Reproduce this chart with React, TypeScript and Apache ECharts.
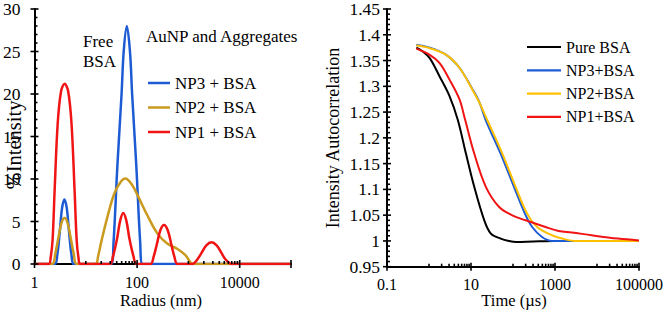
import React, { useEffect, useRef } from "react";
import * as echarts from "echarts";

const FONT = "'Liberation Serif', serif";

// ---- Left chart: size distribution (% intensity vs radius, nm) ----
const np3Radius = [1, 2.47, 2.77, 3.13, 3.45, 3.83, 4.25, 4.68, 5.28, 5.93, 31.2, 34.7, 41.3, 49.8, 54.8, 63.1, 72.6, 80, 96.4, 115, 128, 100000];
const np3Intensity = [0, 0, 1.0, 4, 6.6, 7.6, 6.6, 4, 1.0, 0, 0, 2.5, 11.6, 20, 25, 28, 25, 20, 11.6, 2.5, 0, 0];

const np2Radius = [1, 2.21, 2.54, 2.9, 3.35, 3.85, 4.42, 5.1, 5.82, 6.68, 15.3, 17.5, 20, 26.8, 36, 48.5, 59, 80, 102, 159, 248, 386, 603, 873, 1260, 100000];
const np2Intensity = [0, 0, 1.2, 3.0, 4.8, 5.4, 4.8, 3.0, 1.2, 0, 0, 1.0, 2.6, 5.7, 8.3, 9.7, 10.05, 9.3, 8.1, 5.7, 3.6, 2.4, 1.8, 1.05, 0, 0];

const np1Radius = [1, 1.89, 2.07, 2.25, 2.47, 2.83, 3.29, 3.86, 4.54, 5.27, 6.04, 6.64, 7.19, 7.89, 29.5, 33.9, 40.7, 46.8, 53.7, 61.7, 70.8, 85.1, 97.7, 182, 211, 242, 285, 335, 394, 465, 531, 615, 1202, 1479, 1803, 2239, 2818, 3548, 4406, 5370, 7080, 100000];
const np1Intensity = [0, 0, 0.8, 2.8, 8.7, 16.5, 20.3, 21.2, 20.3, 16.5, 8.7, 2.8, 0.8, 0, 0, 0.9, 3, 5.1, 6.0, 5.1, 3, 0.9, 0, 0, 0.9, 2.3, 4.0, 4.6, 4.0, 2.3, 0.9, 0, 0, 0.5, 1.3, 2.2, 2.55, 2.2, 1.3, 0.5, 0, 0];

const leftNames = ["NP3 + BSA", "NP2 + BSA", "NP1 + BSA"];
const leftXLabels: Record<string, string> = { "0": "1", "2": "100", "4": "10000" };
const leftYLabels = ["0", "5", "10", "15", "20", "25", "30"];
const leftXMajor = [1, 100, 10000, 100000];

// ---- Right chart: intensity autocorrelation vs time (µs) ----
const pureTime = [0.5, 0.7, 1.04, 1.79, 3.08, 4.84, 7.6, 12, 20.7, 29.7, 51, 80, 120, 300, 1000, 100000];
const pureAc = [1.375, 1.368, 1.3546, 1.319, 1.281, 1.235, 1.169, 1.1045, 1.04, 1.0143, 1.0046, 1.0, 0.998, 0.999, 1.0, 1.0];

const np3Time = [0.5, 1.04, 2.57, 5.3, 10.9, 15.7, 22.6, 51, 106, 192, 286, 490, 850, 100000];
const np3Ac = [1.38, 1.375, 1.361, 1.336, 1.294, 1.27, 1.2336, 1.169, 1.1045, 1.053, 1.027, 1.0077, 1.0, 1.0];

const np2Time = [0.5, 1.04, 2.57, 5.3, 10.9, 15.7, 24.7, 56, 116, 218, 375, 850, 1760, 3000, 100000];
const np2Ac = [1.379, 1.374, 1.361, 1.336, 1.293, 1.269, 1.2336, 1.169, 1.1045, 1.053, 1.027, 1.011, 1.003, 1.0, 1.0];

const np1Time = [0.5, 1.04, 1.79, 3.08, 5.3, 7.2, 12, 22.7, 46.8, 96, 200, 593, 1222, 2510, 7480, 31600, 100000];
const np1Ac = [1.373, 1.361, 1.345, 1.313, 1.275, 1.236, 1.169, 1.1045, 1.0658, 1.0497, 1.04, 1.0271, 1.0194, 1.0165, 1.011, 1.0046, 1.001];

const rightNames = ["Pure BSA", "NP3+BSA", "NP2+BSA", "NP1+BSA"];
const rightXLabels: Record<string, string> = { "-1": "0.1", "1": "10", "3": "1000", "5": "100000" };
const rightYLabels = ["0.95", "1", "1.05", "1.1", "1.15", "1.2", "1.25", "1.3", "1.35", "1.4", "1.45"];
const rightXMajor = [0.1, 10, 1000, 100000];

const BLUE = "#1C5BD4";
const GOLD = "#C99A1E";
const YELLOW = "#FFC000";
const RED = "#F01414";
const BLACK = "#000000";

function pairs(xs: number[], ys: number[]) {
  return xs.map((x, i) => [x, ys[i]]);
}

function minorLogTicks(majors: number[], max: number) {
  const out: number[] = [];
  majors.forEach((m) => {
    for (let k = 1; k <= 9; k++) {
      const v = m * 10 * k;
      if (v < max * 0.999) out.push(v);
    }
  });
  return out;
}

function linTicks(min: number, max: number, step: number, majorStep: number) {
  const out: number[][] = [];
  const n = Math.round((max - min) / step);
  const per = Math.round(majorStep / step);
  for (let i = 0; i <= n; i++) {
    out.push([min + i * step, i % per === 0 ? 1 : 0]);
  }
  return out;
}

function tickSeries(gridIdx: number, dir: "x" | "y", data: number[][]) {
  return {
    type: "custom",
    xAxisIndex: gridIdx,
    yAxisIndex: gridIdx,
    silent: true,
    clip: false,
    z: 10,
    data,
    renderItem: (_params: any, api: any) => {
      const p = api.coord([api.value(0), api.value(1)]);
      const major = api.value(2) === 1;
      const L = 4;
      const m = 3;
      const shape =
        dir === "x"
          ? { x1: p[0], y1: p[1] - (major ? L : m), x2: p[0], y2: p[1] + (major ? L : 0) }
          : { x1: p[0] - (major ? L : 0), y1: p[1], x2: p[0] + (major ? L : m), y2: p[1] };
      return { type: "line", shape, style: { stroke: "#000", lineWidth: 1.6 } };
    },
  };
}

function lineSeries(name: string, gridIdx: number, data: number[][], color: string, width: number) {
  return {
    type: "line",
    name,
    xAxisIndex: gridIdx,
    yAxisIndex: gridIdx,
    data,
    symbol: "none",
    smooth: 0.35,
    lineStyle: { color, width },
    itemStyle: { color },
    z: 3,
  };
}

export default function App() {
  const ref = useRef<HTMLDivElement>(null);

  useEffect(() => {
    if (!ref.current) return;
    const chart = echarts.init(ref.current, undefined, { renderer: "svg" });

    const leftXTicks = [
      ...leftXMajor.map((v) => [v, 0, 1]),
      ...minorLogTicks([1, 100, 10000], 100000).map((v) => [v, 0, 0]),
    ];
    const rightXTicks = [
      ...rightXMajor.map((v) => [v, 0.95, 1]),
      ...minorLogTicks([0.1, 10, 1000], 100000).map((v) => [v, 0.95, 0]),
    ];
    const leftYTicks = linTicks(0, 30, 1, 5).map(([v, mj]) => [1, v, mj]);
    const rightYTicks = linTicks(0.95, 1.45, 0.01, 0.05).map(([v, mj]) => [0.1, v, mj]);

    const axisLine = { show: true, onZero: false, lineStyle: { color: "#000", width: 2 } };
    const xLabelStyle = { color: "#000", fontFamily: FONT, fontSize: 16 };
    const yLabelStyle = { color: "#000", fontFamily: FONT, fontSize: 17.5 };

    const option: any = {
      animation: false,
      backgroundColor: "#ffffff",
      textStyle: { fontFamily: FONT, color: "#000" },
      grid: [
        { left: 31, top: 7.5, width: 260, height: 256.5, containLabel: false },
        { left: 387, top: 8.5, width: 254.5, height: 258.2, containLabel: false },
      ],
      xAxis: [
        {
          type: "log",
          gridIndex: 0,
          logBase: 10,
          min: 1,
          max: 100000,
          axisLine,
          axisTick: { show: false },
          minorTick: { show: false },
          splitLine: { show: false },
          axisLabel: {
            ...xLabelStyle,
            margin: 10,
            formatter: (v: number) => leftXLabels[String(Math.round(Math.log10(v)))] || "",
          },
        },
        {
          type: "log",
          gridIndex: 1,
          logBase: 10,
          min: 0.1,
          max: 100000,
          axisLine,
          axisTick: { show: false },
          minorTick: { show: false },
          splitLine: { show: false },
          axisLabel: {
            ...xLabelStyle,
            margin: 10,
            formatter: (v: number) => rightXLabels[String(Math.round(Math.log10(v)))] || "",
          },
        },
      ],
      yAxis: [
        {
          type: "value",
          gridIndex: 0,
          min: 0,
          max: 30,
          interval: 5,
          axisLine,
          axisTick: { show: false },
          splitLine: { show: false },
          axisLabel: {
            ...yLabelStyle,
            margin: 14,
            formatter: (v: number) => leftYLabels[Math.round(v / 5)] ?? "",
          },
        },
        {
          type: "value",
          gridIndex: 1,
          min: 0.95,
          max: 1.45,
          interval: 0.05,
          axisLine,
          axisTick: { show: false },
          splitLine: { show: false },
          axisLabel: {
            ...yLabelStyle,
            margin: 7,
            formatter: (v: number) => rightYLabels[Math.round((v - 0.95) / 0.05)] ?? "",
          },
        },
      ],
      legend: [
        {
          data: leftNames,
          orient: "vertical",
          left: 148,
          top: 74.5,
          padding: 0,
          icon: "rect",
          itemWidth: 22,
          itemHeight: 2.5,
          itemGap: 7.5,
          textStyle: { color: "#000", fontFamily: FONT, fontSize: 17 },
        },
        {
          data: rightNames,
          orient: "vertical",
          left: 527,
          top: 39,
          padding: 0,
          icon: "rect",
          itemWidth: 34,
          itemHeight: 2.2,
          itemGap: 7.3,
          textStyle: { color: "#000", fontFamily: FONT, fontSize: 16 },
        },
      ],
      series: [
        lineSeries(leftNames[0], 0, pairs(np3Radius, np3Intensity), BLUE, 2.5),
        lineSeries(leftNames[1], 0, pairs(np2Radius, np2Intensity), GOLD, 2.5),
        lineSeries(leftNames[2], 0, pairs(np1Radius, np1Intensity), RED, 2.5),
        lineSeries(rightNames[0], 1, pairs(pureTime, pureAc), BLACK, 2),
        lineSeries(rightNames[1], 1, pairs(np3Time, np3Ac), BLUE, 2),
        lineSeries(rightNames[2], 1, pairs(np2Time, np2Ac), YELLOW, 2),
        lineSeries(rightNames[3], 1, pairs(np1Time, np1Ac), RED, 2),
        tickSeries(0, "x", leftXTicks),
        tickSeries(0, "y", leftYTicks),
        tickSeries(1, "x", rightXTicks),
        tickSeries(1, "y", rightYTicks),
      ],
      graphic: [
        {
          type: "text",
          left: 83,
          top: 32,
          style: { text: "Free\nBSA", fontFamily: FONT, fontSize: 17, lineHeight: 19.5, fill: "#000" },
        },
        {
          type: "text",
          x: 146,
          y: 36,
          style: { text: "AuNP and Aggregates", fontFamily: FONT, fontSize: 17, fill: "#000", align: "left", verticalAlign: "middle" },
        },
        {
          type: "text",
          x: 14,
          y: 145,
          rotation: Math.PI / 2,
          style: { text: "%Intensity", fontFamily: FONT, fontSize: 20.5, fill: "#000", align: "center", verticalAlign: "middle" },
        },
        {
          type: "text",
          x: 161,
          y: 300,
          style: { text: "Radius (nm)", fontFamily: FONT, fontSize: 16.5, fill: "#000", align: "center", verticalAlign: "middle" },
        },
        {
          type: "text",
          x: 333,
          y: 138,
          rotation: Math.PI / 2,
          style: { text: "Intensity Autocorrelation", fontFamily: FONT, fontSize: 18, fill: "#000", align: "center", verticalAlign: "middle" },
        },
        {
          type: "text",
          x: 514,
          y: 300,
          style: { text: "Time (µs)", fontFamily: FONT, fontSize: 16.5, fill: "#000", align: "center", verticalAlign: "middle" },
        },
      ],
    };

    chart.setOption(option);
    return () => chart.dispose();
  }, []);

  return (
    <div
      ref={ref}
      style={{ position: "absolute", left: 0, top: 0, width: 666, height: 310, background: "#fff" }}
    />
  );
}
